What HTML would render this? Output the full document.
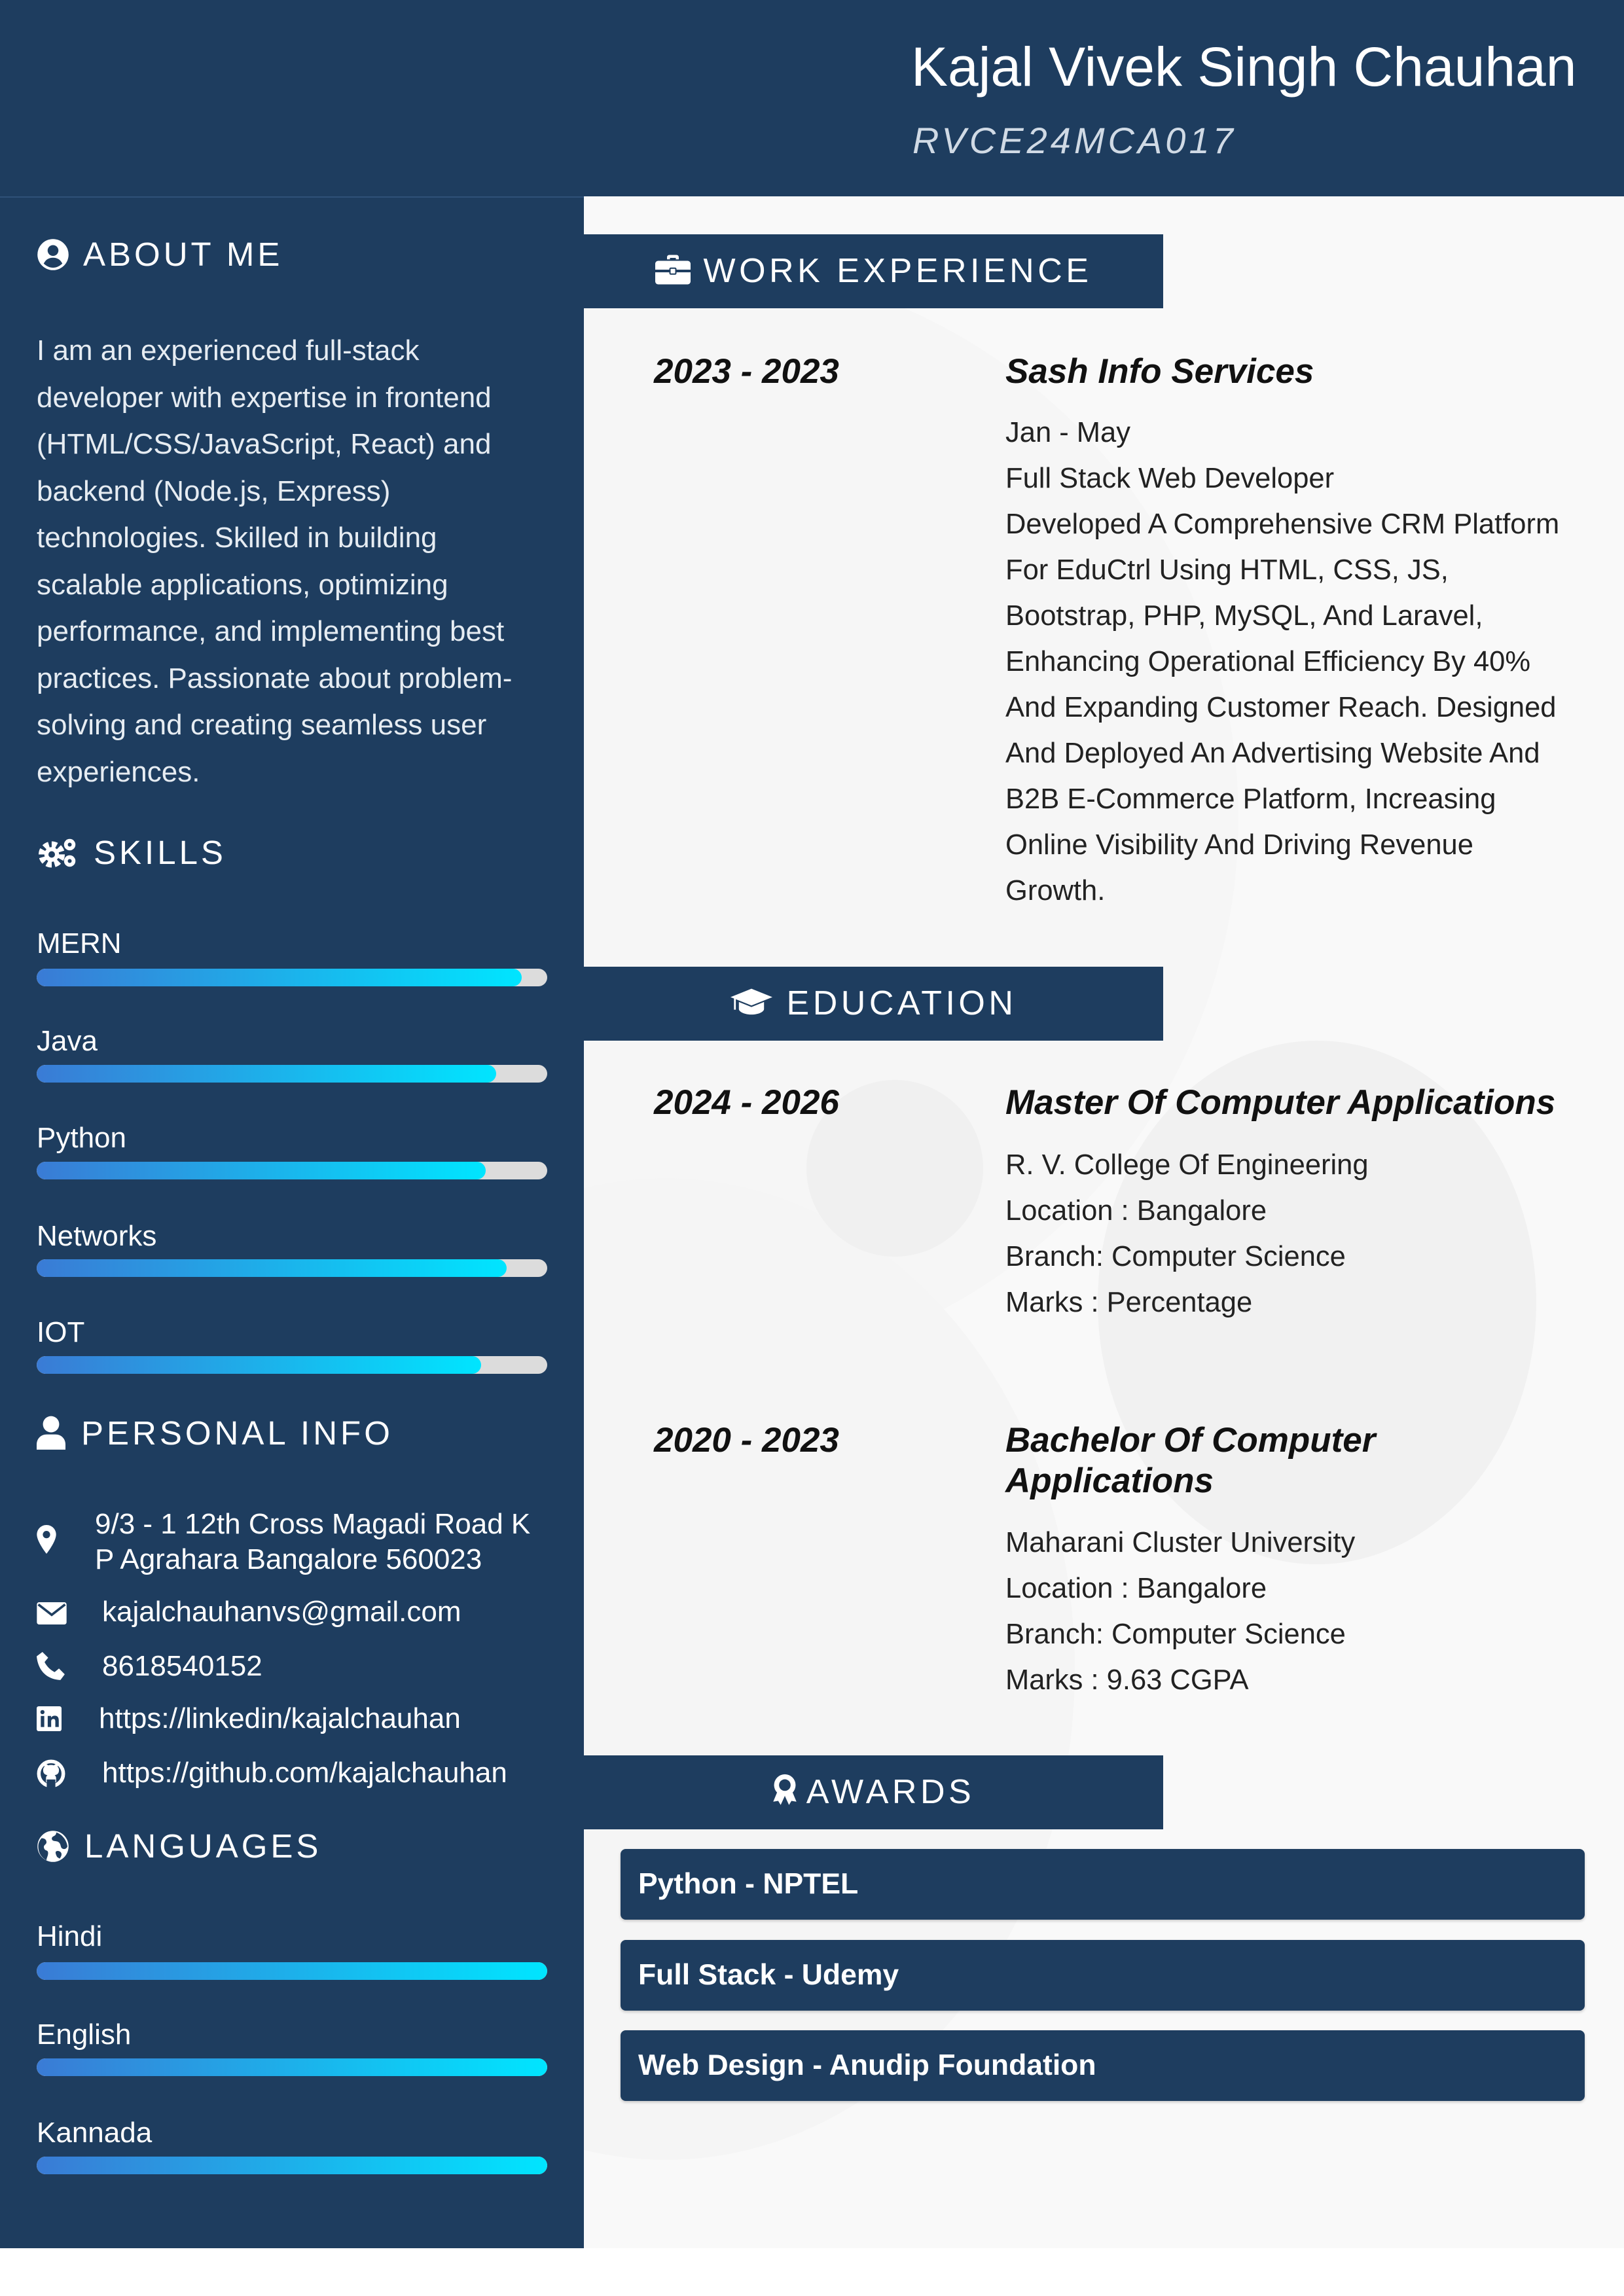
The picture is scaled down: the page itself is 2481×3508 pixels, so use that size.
<!DOCTYPE html>
<html><head><meta charset="utf-8">
<style>
*{margin:0;padding:0;box-sizing:border-box}
html,body{width:2481px;height:3508px;overflow:hidden}
body{background:#fff;font-family:"Liberation Sans",Arial,sans-serif;position:relative}
.a{position:absolute;white-space:nowrap}
#hdr{left:0;top:0;width:2481px;height:300px;background:#1e3d5f}
#side{left:0;top:300px;width:892px;height:3135px;background:#1e3d5f;border-top:2px solid #2f5178}
#main{left:892px;top:300px;width:1589px;height:3135px;background:#f9f9f9;overflow:hidden}
.circ{position:absolute;border-radius:50%;background:#f1f1f1}
.sh{color:#fff;font-size:51px;letter-spacing:5px;line-height:60px}
.st{color:#fff;font-size:44px;line-height:60px}
.track{position:absolute;left:56px;width:780px;height:27px;border-radius:14px;background:#dcdcdc;overflow:hidden}
.fill{height:100%;border-radius:14px;background:linear-gradient(90deg,#3a7bd5,#00e5ff)}
.mh{position:absolute;left:892px;width:885px;height:113px;background:#1e3d5f;color:#fff;font-size:52px;letter-spacing:5.5px;line-height:113px;text-align:center}
.bi{font-weight:bold;font-style:italic;color:#111;font-size:53px;line-height:62px}
.bt{color:#222;font-size:43.5px;line-height:70px}
.aw{position:absolute;left:948px;width:1473px;height:108px;background:#1e3d5f;border-radius:8px;color:#fff;font-weight:bold;font-size:44.5px;line-height:108px;padding-left:27px;box-shadow:0 2px 4px rgba(0,0,0,.2)}
</style></head><body>
<div id="hdr" class="a"></div>
<div class="a" style="left:1392px;top:52px;color:#fff;font-size:84px;line-height:100px">Kajal Vivek Singh Chauhan</div>
<div class="a" style="left:1394px;top:180px;color:#d0dae5;font-size:56px;font-style:italic;letter-spacing:5px;line-height:70px">RVCE24MCA017</div>

<div id="side" class="a"></div>
<div id="main" class="a">
 <div class="circ" style="left:-700px;top:100px;width:1700px;height:1700px;background:#f6f6f6"></div>
 <div class="circ" style="left:-500px;top:1500px;width:1250px;height:1500px;background:#f5f5f5"></div>
 <div class="circ" style="left:785px;top:1290px;width:670px;height:800px;background:#f1f1f1"></div>
 <div class="circ" style="left:340px;top:1350px;width:270px;height:270px;background:#f0f0f0"></div>
</div>

<!-- ABOUT -->
<svg class="a" style="left:56px;top:364px" width="50" height="50" viewBox="0 0 20 20"><circle cx="10" cy="10" r="9.5" fill="#fff"/><circle cx="10" cy="7.5" r="3.3" fill="#1e3d5f"/><path d="M4.3 15.5c1.2-2.5 3.2-3.6 5.7-3.6s4.5 1.1 5.7 3.6C14 17.1 12 18 10 18s-4-.9-5.7-2.5z" fill="#1e3d5f"/></svg>
<div class="a sh" style="left:127px;top:359px">ABOUT ME</div>
<div class="a" style="left:56px;top:500px;color:#e6ecf2;font-size:44px;line-height:71.5px">I am an experienced full-stack<br>developer with expertise in frontend<br>(HTML/CSS/JavaScript, React) and<br>backend (Node.js, Express)<br>technologies. Skilled in building<br>scalable applications, optimizing<br>performance, and implementing best<br>practices. Passionate about problem-<br>solving and creating seamless user<br>experiences.</div>

<!-- SKILLS -->
<svg class="a" style="left:56px;top:1278px" width="66" height="50" viewBox="0 0 26 20"><circle cx="9" cy="11" r="6" fill="none" stroke="#fff" stroke-width="4" stroke-dasharray="3 1.7"/><circle cx="9" cy="11" r="4.5" fill="#fff"/><circle cx="9" cy="11" r="2" fill="#1e3d5f"/><circle cx="20" cy="5" r="3.5" fill="#fff"/><circle cx="20" cy="5" r="1.2" fill="#1e3d5f"/><circle cx="20" cy="15" r="3.5" fill="#fff"/><circle cx="20" cy="15" r="1.2" fill="#1e3d5f"/></svg>
<div class="a sh" style="left:143px;top:1273px">SKILLS</div>
<div class="a st" style="left:56px;top:1412px">MERN</div>
<div class="track" style="top:1480px"><div class="fill" style="width:95%"></div></div>
<div class="a st" style="left:56px;top:1561px">Java</div>
<div class="track" style="top:1627px"><div class="fill" style="width:90%"></div></div>
<div class="a st" style="left:56px;top:1709px">Python</div>
<div class="track" style="top:1775px"><div class="fill" style="width:88%"></div></div>
<div class="a st" style="left:56px;top:1859px">Networks</div>
<div class="track" style="top:1924px"><div class="fill" style="width:92%"></div></div>
<div class="a st" style="left:56px;top:2006px">IOT</div>
<div class="track" style="top:2072px"><div class="fill" style="width:87%"></div></div>

<!-- PERSONAL -->
<svg class="a" style="left:56px;top:2163px" width="44" height="52" viewBox="0 0 17 20"><circle cx="8.5" cy="5" r="4.8" fill="#fff"/><path d="M0 20v-3c0-3.5 2.5-6 6-6h5c3.5 0 6 2.5 6 6v3z" fill="#fff"/></svg>
<div class="a sh" style="left:124px;top:2160px">PERSONAL INFO</div>
<svg class="a" style="left:56px;top:2330px" width="30" height="44" viewBox="0 0 12 18"><path d="M6 0C2.7 0 0 2.6 0 6c0 4.5 6 12 6 12s6-7.5 6-12C12 2.6 9.3 0 6 0z" fill="#fff"/><circle cx="6" cy="6" r="2.3" fill="#1e3d5f"/></svg>
<div class="a st" style="left:145px;top:2299px">9/3 - 1 12th Cross Magadi Road K</div>
<div class="a st" style="left:145px;top:2353px">P Agrahara Bangalore 560023</div>
<svg class="a" style="left:56px;top:2448px" width="46" height="34" viewBox="0 0 20 15"><rect x="0" y="0" width="20" height="15" rx="1.5" fill="#fff"/><path d="M1 1.5l9 7 9-7" fill="none" stroke="#1e3d5f" stroke-width="1.6"/></svg>
<div class="a st" style="left:156px;top:2433px">kajalchauhanvs@gmail.com</div>
<svg class="a" style="left:56px;top:2524px" width="44" height="44" viewBox="0 0 20 20"><path d="M4 0l4 4-2.5 3c1.5 3 4 5.5 7 7l3-2.5 4 4-3 4C7 19 1 13 0 3z" fill="#fff"/></svg>
<div class="a st" style="left:156px;top:2516px">8618540152</div>
<svg class="a" style="left:56px;top:2606px" width="38" height="40" viewBox="0 0 18 18"><rect width="18" height="18" rx="1.5" fill="#fff"/><rect x="3" y="7" width="2.5" height="8" fill="#1e3d5f"/><circle cx="4.2" cy="4.2" r="1.5" fill="#1e3d5f"/><path d="M8 7h2.4v1.2c.6-1 1.7-1.4 2.8-1.4 2 0 2.8 1.3 2.8 3.5V15h-2.5v-4c0-1.2-.4-1.8-1.4-1.8s-1.6.7-1.6 1.8v4H8z" fill="#1e3d5f"/></svg>
<div class="a st" style="left:151px;top:2596px">https://linkedin/kajalchauhan</div>
<svg class="a" style="left:56px;top:2688px" width="44" height="44" viewBox="0 0 20 20"><circle cx="10" cy="10" r="8.5" fill="none" stroke="#fff" stroke-width="2.5"/><path d="M6.5 16v-3c0-1 .5-1.6 1-2-2-.3-3-1.3-3-3.5 0-1 .3-1.7.9-2.3-.1-.5-.1-1.3.2-2 1 0 1.800.5 2.400 1a7 7 0 0 1 4 0c.6-.5 1.4-1 2.4-1 .3.7.3 1.5.2 2 .6.6.9 1.3.9 2.3 0 2.2-1 3.2-3 3.5.5.4 1 1 1 2v3" fill="#fff"/><rect x="7" y="14" width="6" height="6" fill="#1e3d5f"/></svg>
<div class="a st" style="left:156px;top:2679px">https://github.com/kajalchauhan</div>

<!-- LANGUAGES -->
<svg class="a" style="left:56px;top:2796px" width="50" height="50" viewBox="0 0 20 20"><circle cx="10" cy="10" r="9.5" fill="#fff"/><path d="M3 5c2 0 3 1 3 2.5S4 9 4.5 11 7 12 7 14s-1 3-1 4.5C3 17 1 14 1 10c0-2 .8-3.7 2-5zM12 1.5c0 1.5-1 2-2 2.5s-1 2 0 2.5 3 0 4 1.5.5 3 2 3.5 2.5-.5 2.8-1.5c-.5-4-3.4-7.5-6.8-8.5zM12 13c1-.5 2.5 0 3 1s0 2.5-1 3.5l-1.5-1c-.5-1-1.5-3-.5-3.5z" fill="#1e3d5f"/></svg>
<div class="a sh" style="left:129px;top:2791px">LANGUAGES</div>
<div class="a st" style="left:56px;top:2929px">Hindi</div>
<div class="track" style="top:2998px"><div class="fill" style="width:100%"></div></div>
<div class="a st" style="left:56px;top:3079px">English</div>
<div class="track" style="top:3145px"><div class="fill" style="width:100%"></div></div>
<div class="a st" style="left:56px;top:3229px">Kannada</div>
<div class="track" style="top:3295px"><div class="fill" style="width:100%"></div></div>

<!-- WORK -->
<div class="mh" style="top:358px"><svg style="vertical-align:-4px;margin-right:20px" width="54" height="46" viewBox="0 0 24 20"><path d="M8 3V1.5C8 .7 8.7 0 9.5 0h5c.8 0 1.5.7 1.5 1.5V3h-2V2h-4v1z" fill="#fff"/><rect x="0" y="4" width="24" height="16" rx="2" fill="#fff"/><rect x="0" y="10" width="24" height="1.8" fill="#1e3d5f"/><rect x="10" y="9" width="4" height="4" rx=".6" fill="#fff" stroke="#1e3d5f" stroke-width=".9"/></svg>WORK EXPERIENCE</div>
<div class="a bi" style="left:999px;top:537px">2023 - 2023</div>
<div class="a bi" style="left:1536px;top:537px">Sash Info Services</div>
<div class="a bt" style="left:1536px;top:626px">Jan - May<br>Full Stack Web Developer<br>Developed A Comprehensive CRM Platform<br>For EduCtrl Using HTML, CSS, JS,<br>Bootstrap, PHP, MySQL, And Laravel,<br>Enhancing Operational Efficiency By 40%<br>And Expanding Customer Reach. Designed<br>And Deployed An Advertising Website And<br>B2B E-Commerce Platform, Increasing<br>Online Visibility And Driving Revenue<br>Growth.</div>

<!-- EDUCATION -->
<div class="mh" style="top:1477px"><svg style="vertical-align:-4px;margin-right:22px" width="64" height="44" viewBox="0 0 30 20"><path d="M15 0l15 6-15 6L0 6z" fill="#fff"/><path d="M6 9.5v5c0 2 4 4 9 4s9-2 9-4v-5l-9 3.6z" fill="#fff"/><rect x="2.5" y="6" width="1.3" height="9" fill="#fff"/></svg>EDUCATION</div>
<div class="a bi" style="left:999px;top:1654px">2024 - 2026</div>
<div class="a bi" style="left:1536px;top:1654px">Master Of Computer Applications</div>
<div class="a bt" style="left:1536px;top:1745px">R. V. College Of Engineering<br>Location : Bangalore<br>Branch: Computer Science<br>Marks : Percentage</div>
<div class="a bi" style="left:999px;top:2170px">2020 - 2023</div>
<div class="a bi" style="left:1536px;top:2170px">Bachelor Of Computer<br>Applications</div>
<div class="a bt" style="left:1536px;top:2322px">Maharani Cluster University<br>Location : Bangalore<br>Branch: Computer Science<br>Marks : 9.63 CGPA</div>

<!-- AWARDS -->
<div class="mh" style="top:2682px"><svg style="vertical-align:-6px;margin-right:14px" width="38" height="52" viewBox="0 0 15 20"><path d="M3 11l-2.5 6 3-.5 1.5 2.5 2.5-5.5zM12 11l2.5 6-3-.5-1.5 2.5-2.5-5.5z" fill="#fff"/><circle cx="7.5" cy="7" r="6.5" fill="#fff"/><circle cx="7.5" cy="7" r="3.5" fill="#1e3d5f"/></svg>AWARDS</div>
<div class="aw" style="top:2825px">Python - NPTEL</div>
<div class="aw" style="top:2964px">Full Stack - Udemy</div>
<div class="aw" style="top:3102px">Web Design - Anudip Foundation</div>
</body></html>
